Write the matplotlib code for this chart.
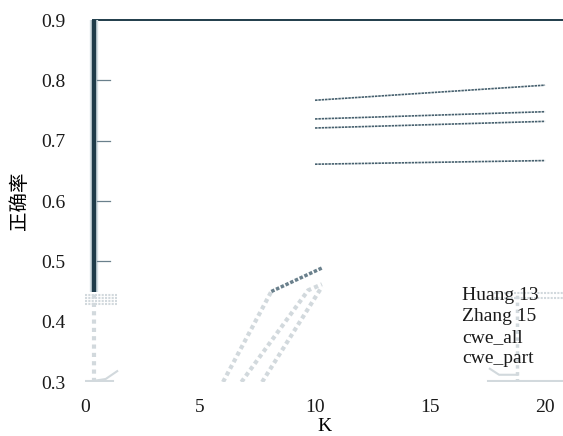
import matplotlib
matplotlib.use("Agg")
import matplotlib.pyplot as plt

# ---- data ----
x_ticks = [0, 5, 10, 15, 20]
y_ticks = [0.3, 0.4, 0.5, 0.6, 0.7, 0.8, 0.9]
series_names = ["Huang 13", "Zhang 15", "cwe_all", "cwe_part"]
K_hi = [10, 20]
huang13 = [0.767, 0.792]
zhang15 = [0.736, 0.748]
cwe_all = [0.721, 0.732]
cwe_part = [0.661, 0.667]

low_a_k = [6.0, 8.1]
low_a = [0.30, 0.45]
dark_a_k = [8.1, 10.3]
dark_a = [0.45, 0.489]
low_b_k = [6.8, 9.7, 10.3]
low_b = [0.30, 0.452, 0.462]
low_c_k = [7.7, 10.3]
low_c = [0.30, 0.458]

plt.rcParams['font.family'] = ['Liberation Serif', 'Noto Sans CJK SC', 'DejaVu Sans']

W, H = 563, 436
fig = plt.figure(figsize=(W / 100, H / 100), dpi=100)
ax = fig.add_axes([85 / W, (H - 382) / H, 478 / W, 362 / H])
ax.set_xlim(0, 20.78)
ax.set_ylim(0.3, 0.9)
for s in ax.spines.values():
    s.set_visible(False)

dark = '#1f3c4a'
faded = '#d2d9dd'

# top border
ax.plot([0.35, 20.78], [0.9, 0.9], color=dark, lw=1.4, clip_on=False)
# thick left line with halo
ax.plot([0.4, 0.4], [0.45, 0.9], color='#d5e0e5', lw=6, solid_capstyle='butt')
ax.plot([0.4, 0.4], [0.45, 0.9], color=dark, lw=3.2, solid_capstyle='butt')
# faded lower part of left line
ax.plot([0.4, 0.4], [0.30, 0.45], color=faded, lw=3, ls=(0, (1, 1)))
for yy in [0.445, 0.44, 0.435, 0.43]:
    ax.plot([0.0, 1.4], [yy, yy], color=faded, lw=1.5, ls=(0, (1, 0.6)))
ax.plot([0.4, 0.9, 1.4], [0.302, 0.305, 0.318], color=faded, lw=1.5)
ax.plot([0.0, 1.2], [0.301, 0.301], color=faded, lw=1.5)

# y tick marks drawn inward
for yv in [0.5, 0.6, 0.7, 0.8]:
    ax.plot([0.5, 1.1], [yv, yv], color='#6a808c', lw=0.9)

ax.set_xticks(x_ticks)
ax.set_yticks(y_ticks)
ax.set_yticklabels([f"{v:.1f}" for v in y_ticks])
ax.tick_params(axis='both', length=0, labelsize=14, colors='#1a1a1a')
ax.tick_params(axis='y', pad=14)
ax.tick_params(axis='x', pad=12)
ax.set_xlabel("K", fontsize=14, labelpad=2)
ax.set_ylabel("正确率", fontsize=14, labelpad=8,
              family=['Noto Sans CJK SC', 'DejaVu Sans'])

# upper series
ls_line = (0, (1.5, 0.5))
for vals in [huang13, zhang15, cwe_all, cwe_part]:
    ax.plot(K_hi, vals, color='#46606e', lw=1.2, ls=ls_line, clip_on=False)

# faded lower segments
for kk, vv in [(low_a_k, low_a), (low_b_k, low_b), (low_c_k, low_c)]:
    ax.plot(kk, vv, color=faded, lw=3, ls=(0, (1, 0.8)))
ax.plot(dark_a_k, dark_a, color='#6a808c', lw=2.5, ls=(0, (1, 0.5)))

# faded artifacts near legend
ax.plot([18.8, 18.8], [0.30, 0.45], color=faded, lw=2.5, ls=(0, (1, 1)))
ax.plot([17.5, 20.78], [0.301, 0.301], color=faded, lw=1.5)
for yy in [0.447, 0.44]:
    ax.plot([17.8, 20.78], [yy, yy], color=faded, lw=1.5, ls=(0, (1, 0.6)))
ax.plot([17.6, 18.0, 18.8], [0.322, 0.312, 0.312], color=faded, lw=1.5)

# legend (text only)
for i, name in enumerate(series_names):
    ax.text(16.4, 0.443 - i * 0.0345, name, fontsize=14, color='#1a1a1a',
            va='center', ha='left')

fig.savefig("out.png", dpi=100)
